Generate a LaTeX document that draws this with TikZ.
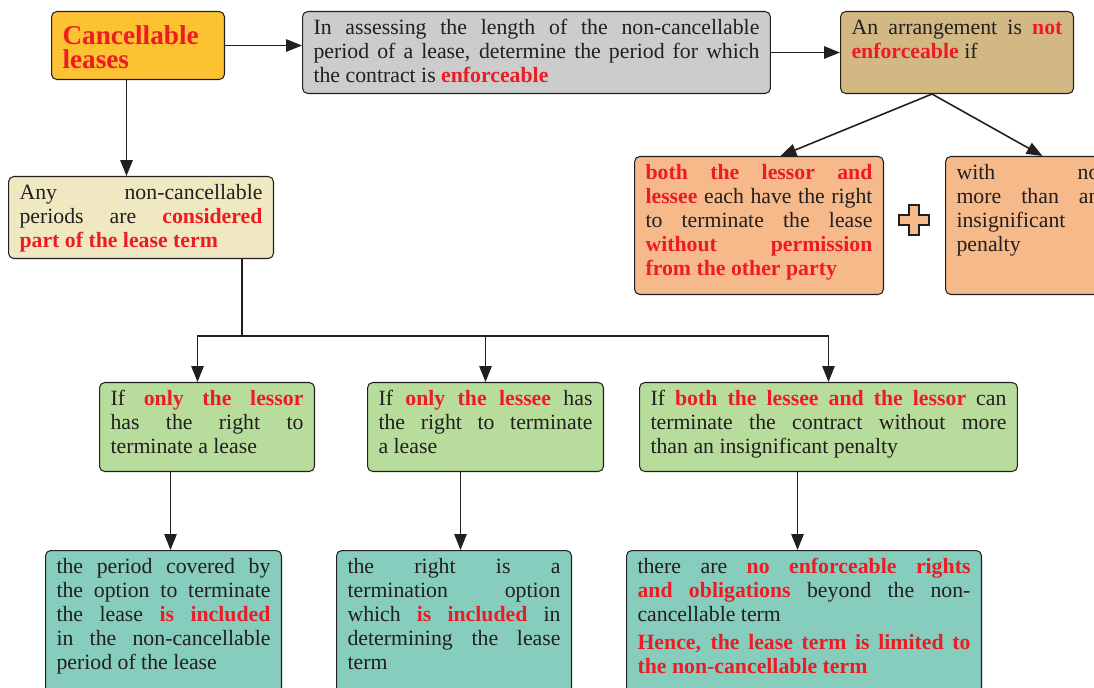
\documentclass[tikz,border=0pt]{standalone}
\usepackage{fontspec}
\setmainfont{Liberation Serif}
\usepackage{xcolor}
\usepackage{tikz}
\usetikzlibrary{arrows.meta,calc}
\definecolor{cancelyellow}{RGB}{253,194,50}
\definecolor{assessgray}{RGB}{204,204,204}
\definecolor{arrangetan}{RGB}{210,185,131}
\definecolor{termpeach}{RGB}{246,185,138}
\definecolor{periodbeige}{RGB}{239,232,192}
\definecolor{casegreen}{RGB}{184,220,156}
\definecolor{resultteal}{RGB}{134,205,189}
\definecolor{keyred}{RGB}{237,28,36}
\definecolor{inkdark}{RGB}{35,31,32}
\newcommand{\keyterm}[1]{\textbf{\textcolor{keyred}{#1}}}
\tolerance=10000
\hbadness=10000

\begin{document}
\begin{tikzpicture}[
    x=0.02cm, y=-0.02cm,
    box/.style={draw=inkdark, line width=0.6pt, rounded corners=3pt, anchor=north west,
        inner xsep=0.22cm, inner ysep=0.16cm, text height=0.3cm, align=justify,
        font=\fontsize{12.4}{13.66}\selectfont, text=inkdark},
    arr/.style={-{Triangle[length=9pt,width=7pt]}, line width=0.9pt, draw=inkdark}
]
\useasboundingbox (0,0) rectangle (1094,688);
\clip (0,0) rectangle (1094,688);
\fill[white] (0,0) rectangle (1094,688);

% top row
\node[box, fill=cancelyellow, text width=3.02cm, text height=0.5cm, text depth=0.54cm, align=left,
    font=\fontsize{15.5}{13.9}\selectfont\bfseries, text=keyred] (cancel) at (51,11) {Cancellable\\leases};
\node[box, fill=assessgray, text width=8.92cm, text depth=1.02cm] (assess) at (302,11)
    {In assessing the length of the non-cancellable\linebreak period of a lease, determine the period for which\linebreak the contract is \keyterm{enforceable}};
\node[box, fill=arrangetan, text width=4.22cm, text depth=1.02cm] (notenf) at (840,11)
    {An arrangement is \keyterm{not}\linebreak \keyterm{enforceable} if};

% conditions for not enforceable
\node[box, fill=termpeach, text width=4.54cm, text depth=2.14cm] (bothright) at (634,156)
    {\keyterm{both the lessor and}\linebreak \keyterm{lessee} each have the right\linebreak to terminate the lease\linebreak \keyterm{without permission}\linebreak \keyterm{from the other party}};
\node[box, fill=termpeach, text width=2.86cm, text depth=2.14cm] (nopenalty) at (945,156)
    {with no\linebreak more than an\linebreak insignificant\linebreak penalty};
\draw[fill=termpeach, draw=inkdark, line width=0.6pt, shift={(914,220)}]
    (-5,-15) -- (5,-15) -- (5,-5) -- (15,-5) -- (15,5) -- (5,5) -- (5,15) -- (-5,15)
    -- (-5,5) -- (-15,5) -- (-15,-5) -- (-5,-5) -- cycle;

% non-cancellable periods
\node[box, fill=periodbeige, text width=4.86cm, text depth=1.02cm] (anyperiod) at (8,176)
    {Any non-cancellable\linebreak periods are \keyterm{considered}\linebreak \keyterm{part of the lease term}};

% who can terminate
\node[box, fill=casegreen, text width=3.86cm, text depth=1.16cm] (onlylessor) at (99,382)
    {If \keyterm{only the lessor}\linebreak has the right to\linebreak terminate a lease};
\node[box, fill=casegreen, text width=4.28cm, text depth=1.16cm] (onlylessee) at (367,382)
    {If \keyterm{only the lessee} has\linebreak the right to terminate\linebreak a lease};
\node[box, fill=casegreen, text width=7.12cm, text depth=1.16cm] (bothparties) at (639,382)
    {If \keyterm{both the lessee and the lessor} can\linebreak terminate the contract without more\linebreak than an insignificant penalty};

% outcomes
\node[box, fill=resultteal, text width=4.28cm, text depth=2.58cm] (periodincl) at (45,550)
    {the period covered by\linebreak the option to terminate\linebreak the lease \keyterm{is included}\linebreak in the non-cancellable\linebreak period of the lease};
\node[box, fill=resultteal, text width=4.26cm, text depth=2.58cm] (optionincl) at (336,550)
    {the right is a\linebreak termination option\linebreak which \keyterm{is included} in\linebreak determining the lease\linebreak term};
\node[box, fill=resultteal, text width=6.66cm, text depth=2.58cm] (termlimit) at (626,550)
    {there are \keyterm{no enforceable rights}\linebreak \keyterm{and obligations} beyond the non-\linebreak cancellable term\par\vspace{2.3pt}
    \keyterm{Hence, the lease term is limited to}\linebreak \keyterm{the non-cancellable term}};

% connectors
\draw[arr] (cancel.east) -- (cancel.east -| assess.west);
\draw[arr] (assess.east) -- (notenf.west);
\draw[arr] ([xshift=-0.23cm]cancel.south) -- ([xshift=-0.23cm]cancel.south |- anyperiod.north);
\draw[arr] ([xshift=-0.5cm]notenf.south) -- ([xshift=0.43cm]bothright.north);
\draw[arr] ([xshift=-0.5cm]notenf.south) -- ([xshift=0.29cm]nopenalty.north);

\coordinate (split) at (242,336);
\draw[line width=0.9pt, draw=inkdark] (split |- anyperiod.south) -- (split);
\draw[arr] (split) -| ([xshift=-0.19cm]onlylessor.north);
\draw[arr] (split) -| (onlylessee.north);
\draw[arr] (split) -| (bothparties.north);

\draw[arr] ([xshift=0.14cm]periodincl.north |- onlylessor.south) -- ([xshift=0.14cm]periodincl.north);
\draw[arr] ([xshift=0.13cm]optionincl.north |- onlylessee.south) -- ([xshift=0.13cm]optionincl.north);
\draw[arr] ([xshift=-0.13cm]termlimit.north |- bothparties.south) -- ([xshift=-0.13cm]termlimit.north);
\end{tikzpicture}
\end{document}
